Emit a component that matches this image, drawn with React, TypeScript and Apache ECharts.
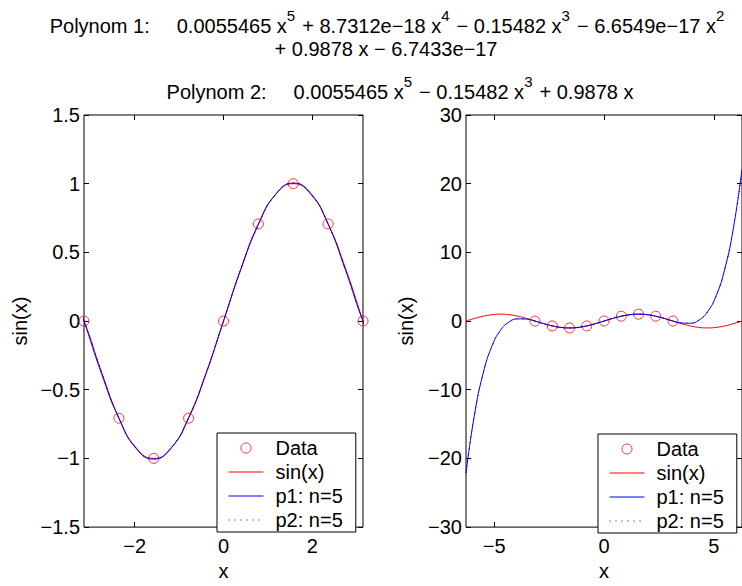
import React, { useEffect, useRef } from 'react';
import * as echarts from 'echarts';

// sample positions (step pi/8 from -2pi to 2pi)
const xs = [
  -6.2832, -5.8905, -5.4978, -5.1051, -4.7124, -4.3197, -3.927, -3.5343,
  -3.1416, -2.7489, -2.3562, -1.9635, -1.5708, -1.1781, -0.7854, -0.3927,
  0,
  0.3927, 0.7854, 1.1781, 1.5708, 1.9635, 2.3562, 2.7489, 3.1416,
  3.5343, 3.927, 4.3197, 4.7124, 5.1051, 5.4978, 5.8905, 6.2832,
];
const sinVals = [
  0, 0.3827, 0.7071, 0.9239, 1, 0.9239, 0.7071, 0.3827,
  0, -0.3827, -0.7071, -0.9239, -1, -0.9239, -0.7071, -0.3827,
  0,
  0.3827, 0.7071, 0.9239, 1, 0.9239, 0.7071, 0.3827, 0,
  -0.3827, -0.7071, -0.9239, -1, -0.9239, -0.7071, -0.3827, 0,
];
const p1Vals = [
  -22.118, -13.511, -7.563, -3.6766, -1.3428, -0.1302, 0.3167, 0.2851,
  -0.0002, -0.3701, -0.7052, -0.9294, -1.0046, -0.9232, -0.7025, -0.3786,
  0,
  0.3786, 0.7025, 0.9232, 1.0046, 0.9294, 0.7052, 0.3701, 0.0002,
  -0.2851, -0.3167, 0.1302, 1.3428, 3.6766, 7.563, 13.511, 22.118,
];
const p2Vals = [
  -22.118, -13.511, -7.563, -3.6766, -1.3428, -0.1302, 0.3167, 0.2851,
  -0.0002, -0.3701, -0.7052, -0.9294, -1.0046, -0.9232, -0.7025, -0.3786,
  0,
  0.3786, 0.7025, 0.9232, 1.0046, 0.9294, 0.7052, 0.3701, 0.0002,
  -0.2851, -0.3167, 0.1302, 1.3428, 3.6766, 7.563, 13.511, 22.118,
];
const dataX = [-3.1416, -2.3562, -1.5708, -0.7854, 0, 0.7854, 1.5708, 2.3562, 3.1416];
const dataY = [0, -0.7071, -1, -0.7071, 0, 0.7071, 1, 0.7071, 0];

const seriesNames = ['Data', 'sin(x)', 'p1: n=5', 'p2: n=5'];
const leftXRange = [-3.1416, 3.1416];
const rightXRange = [-6.2832, 6.2832];
const leftXTicks = [-2, 0, 2];
const rightXTicks = [-5, 0, 5];
const leftYRange = [-1.5, 1.5];
const leftYStep = 0.5;
const rightYRange = [-30, 30];
const rightYStep = 10;

const title1 =
  '{n|Polynom 1:}{g| }{n|0.0055465 x}{s|5}{sp| }{n|+ 8.7312e\u221218 x}{s|4}{sp| }{n|\u2212 0.15482 x}{s|3}{sp| }{n|\u2212 6.6549e\u221217 x}{s|2}';
const title2 = '{n|+ 0.9878 x \u2212 6.7433e\u221217}';
const title3 =
  '{n|Polynom 2:}{g| }{n|0.0055465 x}{s|5}{sp| }{n|\u2212 0.15482 x}{s|3}{sp| }{n|+ 0.9878 x}';

const FONT = "'Liberation Sans', Arial, Helvetica, sans-serif";
const RED = '#ff0000';
const BLUE = '#0000ff';
const CLEAR = 'rgba(0,0,0,0)';

function fmt(v: number) {
  if (Math.abs(v) < 1e-9) return '0';
  return v < 0 ? '\u2212' + String(Math.abs(v)) : String(v);
}

const richStyles = {
  n: { fontSize: 20, fontFamily: FONT, fill: '#000', color: '#000', lineHeight: 36, verticalAlign: 'middle' },
  s: { fontSize: 15, fontFamily: FONT, fill: '#000', color: '#000', lineHeight: 15, verticalAlign: 'top' },
  sp: { fontSize: 20, fontFamily: FONT, width: 7, lineHeight: 36 },
  g: { fontSize: 20, fontFamily: FONT, width: 27, lineHeight: 36 },
};

const labelStyle = { fontSize: 20, color: '#000', fontFamily: FONT };
const tickLine = { color: '#000', width: 1 };

function mkX(grid: number, range: number[], ticks: number[], bottom: boolean) {
  return {
    type: 'value',
    gridIndex: grid,
    min: range[0],
    max: range[1],
    position: bottom ? 'bottom' : 'top',
    axisLine: { show: false, onZero: false },
    axisTick: { show: true, inside: true, length: 5, customValues: ticks, lineStyle: tickLine },
    axisLabel: { show: bottom, customValues: ticks, formatter: fmt, margin: 9, ...labelStyle },
    splitLine: { show: false },
    name: bottom ? 'x' : '',
    nameLocation: 'middle',
    nameGap: 32,
    nameTextStyle: labelStyle,
  };
}

function mkY(grid: number, range: number[], step: number, left: boolean, gap: number) {
  return {
    type: 'value',
    gridIndex: grid,
    min: range[0],
    max: range[1],
    interval: step,
    position: left ? 'left' : 'right',
    axisLine: { show: false, onZero: false },
    axisTick: { show: true, inside: true, length: 5, lineStyle: tickLine },
    axisLabel: { show: left, formatter: fmt, margin: 4, ...labelStyle },
    splitLine: { show: false },
    name: left ? 'sin(x)' : '',
    nameLocation: 'middle',
    nameGap: gap,
    nameTextStyle: labelStyle,
  };
}

function mkSeries(xi: number, yi: number) {
  const pts = (ys: number[]) => xs.map((x, i) => [x, ys[i]]);
  return [
    {
      type: 'scatter',
      name: seriesNames[0],
      xAxisIndex: xi,
      yAxisIndex: yi,
      data: dataX.map((x, i) => [x, dataY[i]]),
      symbol: 'circle',
      symbolSize: 10,
      itemStyle: { color: CLEAR, borderColor: RED, borderWidth: 1 },
      z: 1,
      silent: true,
    },
    {
      type: 'line',
      name: seriesNames[1],
      xAxisIndex: xi,
      yAxisIndex: yi,
      data: pts(sinVals),
      smooth: 0.5,
      symbol: 'none',
      lineStyle: { color: RED, width: 1 },
      itemStyle: { color: RED },
      z: 2,
      silent: true,
    },
    {
      type: 'line',
      name: seriesNames[3],
      xAxisIndex: xi,
      yAxisIndex: yi,
      data: pts(p2Vals),
      smooth: 0.5,
      symbol: 'none',
      lineStyle: { color: '#000', width: 1, type: [1, 5] },
      itemStyle: { color: '#000' },
      z: 2,
      silent: true,
    },
    {
      type: 'line',
      name: seriesNames[2],
      xAxisIndex: xi,
      yAxisIndex: yi,
      data: pts(p1Vals),
      smooth: 0.5,
      symbol: 'none',
      lineStyle: { color: BLUE, width: 1 },
      itemStyle: { color: BLUE },
      z: 3,
      silent: true,
    },
  ];
}

const hiddenSymbol = { color: CLEAR, borderColor: CLEAR, borderWidth: 0 };

function mkLegend(left: number, top: number) {
  return {
    orient: 'vertical',
    left,
    top,
    z: 10,
    selectedMode: false,
    backgroundColor: '#fff',
    borderColor: '#000',
    borderWidth: 1,
    borderRadius: 0,
    padding: [5, 13, 2, 11],
    itemWidth: 35,
    itemHeight: 10,
    itemGap: 4,
    textStyle: { ...labelStyle, lineHeight: 20, padding: [0, 0, 0, 7] },
    data: [
      { name: seriesNames[0], icon: 'circle', itemStyle: { color: CLEAR, borderColor: RED, borderWidth: 1 } },
      { name: seriesNames[1], itemStyle: hiddenSymbol, lineStyle: { color: RED, width: 1 } },
      { name: seriesNames[2], itemStyle: hiddenSymbol, lineStyle: { color: BLUE, width: 1 } },
      { name: seriesNames[3], itemStyle: hiddenSymbol, lineStyle: { color: '#000', width: 1, type: [1, 5] } },
    ],
  };
}

export default function App() {
  const ref = useRef<HTMLDivElement>(null);
  useEffect(() => {
    if (!ref.current) return;
    const chart = echarts.init(ref.current, undefined, { renderer: 'svg' });
    chart.setOption({
      animation: false,
      backgroundColor: '#fff',
      grid: [
        { left: 84, top: 115, width: 279, height: 424, show: true, borderColor: '#000', borderWidth: 1 },
        { left: 466, top: 115, width: 279, height: 424, show: true, borderColor: '#000', borderWidth: 1 },
      ],
      xAxis: [
        mkX(0, leftXRange, leftXTicks, true),
        mkX(0, leftXRange, leftXTicks, false),
        mkX(1, rightXRange, rightXTicks, true),
        mkX(1, rightXRange, rightXTicks, false),
      ],
      yAxis: [
        mkY(0, leftYRange, leftYStep, true, 54),
        mkY(0, leftYRange, leftYStep, false, 54),
        mkY(1, rightYRange, rightYStep, true, 50),
        mkY(1, rightYRange, rightYStep, false, 50),
      ],
      legend: [mkLegend(217, 433), mkLegend(598, 434)],
      series: [...mkSeries(0, 0), ...mkSeries(2, 2)],
      graphic: [
        { type: 'text', x: 387, y: 26, silent: true, style: { text: title1, rich: richStyles, align: 'center', verticalAlign: 'middle', fontSize: 20, fontFamily: FONT, fill: '#000' } },
        { type: 'text', x: 386, y: 49, silent: true, style: { text: title2, rich: richStyles, align: 'center', verticalAlign: 'middle', fontSize: 20, fontFamily: FONT, fill: '#000' } },
        { type: 'text', x: 400, y: 92, silent: true, style: { text: title3, rich: richStyles, align: 'center', verticalAlign: 'middle', fontSize: 20, fontFamily: FONT, fill: '#000' } },
      ],
    });
    return () => chart.dispose();
  }, []);
  return <div ref={ref} style={{ position: 'absolute', left: 0, top: 0, width: 742, height: 586 }} />;
}
